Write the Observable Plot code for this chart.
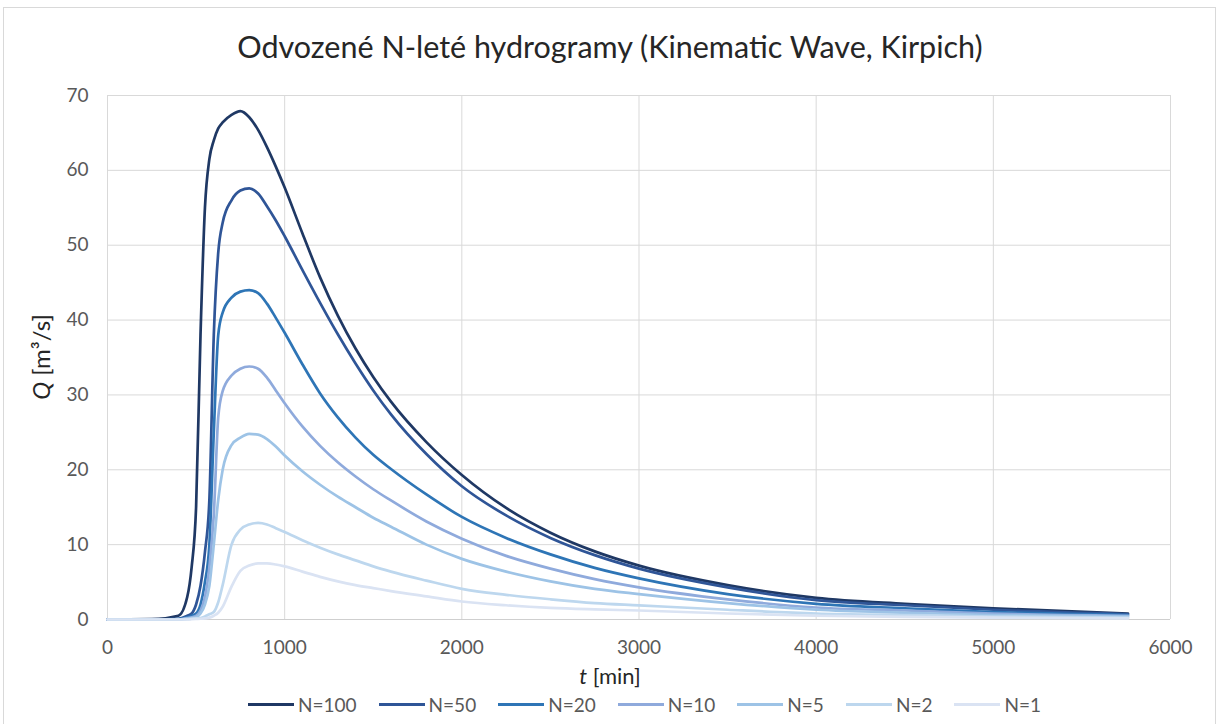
<!DOCTYPE html>
<html>
<head>
<meta charset="utf-8">
<script src="https://cdn.jsdelivr.net/npm/d3@7"></script>
<script src="https://cdn.jsdelivr.net/npm/@observablehq/plot@0.6"></script>
<style>
  html, body { margin: 0; padding: 0; background: #fff; }
  body { font-family: Lato, "Open Sans", sans-serif; }
  #wrap { position: relative; width: 1220px; height: 724px; overflow: hidden; background: #fff; }
  #border { position: absolute; left: 3px; top: 7px; width: 1213px; height: 740px; border: 1px solid #d9d9d9; box-sizing: border-box; }
  #title { position: absolute; left: 0; top: 28px; width: 1220px; text-align: center; font-size: 30.5px; color: #262626; }
  #chart { position: absolute; left: 0; top: 80px; }
  #legend { position: absolute; top: 693px; left: 248px; display: flex; align-items: center; gap: 22px; font-size: 19px; color: #595959; }
  .item { display: flex; align-items: center; gap: 4px; }
  .swatch { width: 46px; height: 3px; }
</style>
</head>
<body>
<div id="wrap">
  <div id="border"></div>
  <div id="title">Odvozené N-leté hydrogramy (Kinematic Wave, Kirpich)</div>
  <div id="chart"></div>
  <div id="legend"></div>
</div>
<script>
// time [min]
const T = [0, 250, 400, 450, 475, 500, 525, 550, 575, 600, 625, 650, 700, 750, 800, 850, 900, 950, 1000, 1100, 1200, 1300, 1400, 1500, 1600, 1800, 2000, 2250, 2500, 2750, 3000, 3500, 4000, 4500, 5000, 5760];

// discharge Q [m3/s] for each return period
const Q100 = [0, 0.05, 0.5, 3, 7, 15, 38, 55, 61.5, 64, 65.6, 66.4, 67.4, 67.9, 67.1, 65.4, 63.1, 60.5, 57.7, 51.6, 45.7, 40.6, 36.2, 32.4, 29.1, 23.7, 19.3, 14.9, 11.6, 9.1, 7.2, 4.6, 2.9, 2.1, 1.5, 0.8];
const Q50  = [0, 0, 0.1, 0.5, 0.8, 2, 4.5, 9, 16, 38, 49, 53, 56, 57.3, 57.6, 56.9, 55.2, 53.3, 51.2, 46.7, 42.3, 38.1, 34.2, 30.6, 27.4, 22.1, 17.8, 13.9, 10.9, 8.6, 6.8, 4.3, 2.6, 1.9, 1.3, 0.7];
const Q20  = [0, 0, 0.05, 0.3, 0.5, 0.8, 2, 5, 10, 25, 38, 41, 43, 43.8, 44, 43.6, 42.2, 40.3, 38.3, 34.1, 30.2, 27, 24.3, 22, 20.1, 16.7, 13.7, 10.9, 8.7, 6.9, 5.5, 3.4, 2.1, 1.5, 1.0, 0.6];
const Q10  = [0, 0, 0, 0.2, 0.3, 0.5, 1.2, 3, 7, 14, 27, 30.5, 32.6, 33.5, 33.8, 33.5, 32.3, 30.6, 28.9, 25.8, 23.2, 21, 19.1, 17.4, 15.9, 13.1, 10.8, 8.5, 6.8, 5.4, 4.3, 2.7, 1.6, 1.2, 0.8, 0.5];
const Q5   = [0, 0, 0, 0.1, 0.2, 0.3, 0.8, 2, 4.5, 10, 16, 20, 23.3, 24.3, 24.8, 24.7, 24.1, 23.1, 21.9, 19.8, 18, 16.4, 15, 13.6, 12.4, 10, 8.1, 6.4, 5.1, 4.1, 3.4, 2.2, 1.3, 0.9, 0.6, 0.4];
const Q2   = [0, 0, 0, 0.05, 0.1, 0.15, 0.2, 0.4, 0.7, 1.0, 2.3, 4.6, 10, 12, 12.7, 12.9, 12.7, 12.2, 11.7, 10.6, 9.6, 8.7, 7.9, 7.1, 6.4, 5.2, 4.1, 3.3, 2.7, 2.2, 1.9, 1.3, 0.8, 0.6, 0.4, 0.25];
const Q1   = [0, 0, 0, 0, 0.05, 0.08, 0.1, 0.15, 0.25, 0.5, 0.9, 1.7, 4.4, 6.5, 7.2, 7.5, 7.5, 7.35, 7.1, 6.4, 5.7, 5.1, 4.6, 4.2, 3.8, 3.1, 2.4, 1.9, 1.55, 1.35, 1.2, 0.8, 0.5, 0.35, 0.25, 0.15];

const seriesNames = ["N=100", "N=50", "N=20", "N=10", "N=5", "N=2", "N=1"];
const seriesValues = [Q100, Q50, Q20, Q10, Q5, Q2, Q1];
const seriesColors = ["#1f3864", "#2f5597", "#2e75b6", "#8faadc", "#9dc3e6", "#bdd7ee", "#dae3f3"];

const xTicks = [0, 1000, 2000, 3000, 4000, 5000, 6000];
const yTicks = [0, 10, 20, 30, 40, 50, 60, 70];

const data = seriesNames.flatMap((name, i) => T.map((t, j) => ({series: name, t, Q: seriesValues[i][j]})));

const chart = Plot.plot({
  width: 1220,
  height: 610,
  marginTop: 15,
  marginBottom: 71,
  marginLeft: 107,
  marginRight: 50,
  style: {fontFamily: "Lato, 'Open Sans', sans-serif", fontSize: "19px", color: "#595959", background: "transparent", overflow: "visible"},
  x: {domain: [0, 6000], ticks: xTicks, tickFormat: d => String(d), label: null, tickSize: 0, tickPadding: 21},
  y: {domain: [0, 70], ticks: yTicks, label: null, tickSize: 0, tickPadding: 19},
  color: {domain: seriesNames, range: seriesColors},
  marks: [
    Plot.gridX(xTicks, {stroke: "#d9d9d9", strokeOpacity: 1, strokeWidth: 1}),
    Plot.gridY(yTicks, {stroke: "#d9d9d9", strokeOpacity: 1, strokeWidth: 1}),
    Plot.ruleY([0], {stroke: "#cfcfcf", strokeWidth: 1.2}),
    Plot.line(data, {x: "t", y: "Q", z: "series", stroke: "series", strokeWidth: 2.7, curve: "monotone-x"})
  ]
});
document.getElementById("chart").appendChild(chart);

// axis titles with italic symbols
const svg = d3.select(chart);
const yr = chart.scale("y").range;
const yMid = (yr[0] + yr[1]) / 2;
const yLab = svg.append("text")
  .attr("transform", `translate(50, ${yMid}) rotate(-90)`)
  .attr("text-anchor", "middle")
  .attr("fill", "#262626")
  .attr("font-size", 24)
  .attr("font-family", "Lato, 'Open Sans', sans-serif");
yLab.append("tspan").attr("font-style", "italic").text("Q");
yLab.append("tspan").text(" [m³/s]");

const xLab = svg.append("text")
  .attr("x", 610)
  .attr("y", yr[0] + 65)
  .attr("text-anchor", "middle")
  .attr("fill", "#262626")
  .attr("font-size", 22)
  .attr("font-family", "Lato, 'Open Sans', sans-serif");
xLab.append("tspan").attr("font-style", "italic").text("t");
xLab.append("tspan").text(" [min]");

// legend
const legend = d3.select("#legend");
seriesNames.forEach((name, i) => {
  const it = legend.append("div").attr("class", "item");
  it.append("div").attr("class", "swatch").style("background", seriesColors[i]);
  it.append("span").text(name);
});
</script>
</body>
</html>
